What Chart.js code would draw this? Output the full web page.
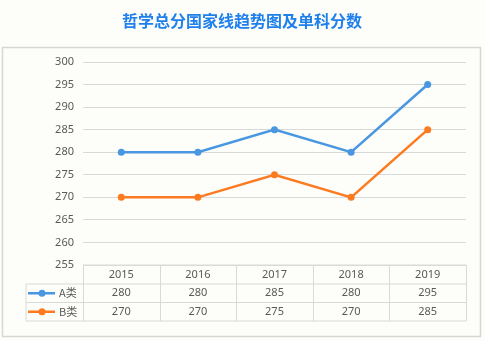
<!DOCTYPE html>
<html>
<head>
<meta charset="utf-8">
<script src="https://cdn.jsdelivr.net/npm/chart.js@4"></script>
<style>
  body { margin: 0; background: #fdfdf9; }
  canvas { display: block; }
</style>
</head>
<body>
<canvas id="trend" width="485" height="340"></canvas>
<script>
const years = ["2015", "2016", "2017", "2018", "2019"];
const seriesNames = ["A类", "B类"];
const scoreA = [280, 280, 285, 280, 295];
const scoreB = [270, 270, 275, 270, 285];
const yMin = 255;
const yMax = 300;
const yStep = 5;

const titleText = "哲学总分国家线趋势图及单科分数";
const colors = ["#4897e0", "#fc7b20"];
const gridColor = "#d9d9d9";
const textColor = "#595959";
const numFont = '11px "Noto Sans", sans-serif';
const cjkFont = '11px "Noto Sans CJK SC", sans-serif';

// frame + title behind the chart
const framePlugin = {
    id: "frame",
    beforeDraw(chart) {
        const ctx = chart.ctx;
        ctx.save();
        ctx.fillStyle = "#fdfdf9";
        ctx.fillRect(0, 0, chart.width, chart.height);
        ctx.strokeStyle = "#d6d6d6";
        ctx.lineWidth = 1.5;
        ctx.strokeRect(2.5, 47.5, 478, 289);
        ctx.fillStyle = "#1f80ec";
        ctx.font = 'bold 16px "Noto Sans CJK SC", sans-serif';
        ctx.textAlign = "center";
        ctx.textBaseline = "middle";
        ctx.fillText(titleText, 242, 21);
        ctx.restore();
    },
};

// data table under the plot, one column per category
const tablePlugin = {
    id: "dataTable",
    afterDraw(chart) {
        const ctx = chart.ctx;
        const area = chart.chartArea;
        const xs = chart.scales.x;
        const n = years.length;
        const colW = (area.right - area.left) / n;
        const legendLeft = 26;
        const rows = [area.bottom, area.bottom + 19, area.bottom + 37.5, area.bottom + 56];
        const rowData = [scoreA, scoreB];

        ctx.save();
        ctx.strokeStyle = gridColor;
        ctx.lineWidth = 1;
        ctx.beginPath();
        // horizontal rules
        ctx.moveTo(area.left, rows[0]);
        ctx.lineTo(area.right, rows[0]);
        for (let r = 1; r < rows.length; r++) {
            ctx.moveTo(legendLeft, rows[r]);
            ctx.lineTo(area.right, rows[r]);
        }
        // vertical rules
        ctx.moveTo(legendLeft, rows[1]);
        ctx.lineTo(legendLeft, rows[3]);
        for (let i = 0; i <= n; i++) {
            const x = Math.round(area.left + i * colW) + 0.5;
            ctx.moveTo(x, rows[0]);
            ctx.lineTo(x, rows[3]);
        }
        ctx.stroke();

        ctx.fillStyle = textColor;
        ctx.textAlign = "center";
        ctx.textBaseline = "middle";
        ctx.font = numFont;
        years.forEach((y, i) => {
            ctx.fillText(y, xs.getPixelForValue(i), (rows[0] + rows[1]) / 2);
        });
        rowData.forEach((vals, r) => {
            const cy = (rows[r + 1] + rows[r + 2]) / 2;
            vals.forEach((v, i) => {
                ctx.fillText(String(v), xs.getPixelForValue(i), cy);
            });
            // legend key
            ctx.strokeStyle = colors[r];
            ctx.lineWidth = 2.5;
            ctx.beginPath();
            ctx.moveTo(28, cy);
            ctx.lineTo(55, cy);
            ctx.stroke();
            ctx.fillStyle = colors[r];
            ctx.beginPath();
            ctx.arc(42, cy, 3.5, 0, Math.PI * 2);
            ctx.fill();
            ctx.fillStyle = textColor;
            ctx.textAlign = "left";
            ctx.font = cjkFont;
            ctx.fillText(seriesNames[r], 59, cy);
            ctx.textAlign = "center";
            ctx.font = numFont;
        });
        ctx.restore();
    },
};

new Chart(document.getElementById("trend"), {
    type: "line",
    data: {
        labels: years,
        datasets: [
            {
                label: seriesNames[0],
                data: scoreA,
                borderColor: colors[0],
                backgroundColor: colors[0],
                borderWidth: 2.5,
                pointRadius: 3.5,
                pointBorderWidth: 0,
                tension: 0,
            },
            {
                label: seriesNames[1],
                data: scoreB,
                borderColor: colors[1],
                backgroundColor: colors[1],
                borderWidth: 2.5,
                pointRadius: 3.5,
                pointBorderWidth: 0,
                tension: 0,
            },
        ],
    },
    options: {
        responsive: false,
        animation: false,
        layout: {
            padding: { left: 0, right: 19, top: 62, bottom: 75 },
        },
        plugins: {
            legend: { display: false },
            tooltip: { enabled: false },
            title: { display: false },
        },
        scales: {
            x: {
                display: false,
                offset: true,
            },
            y: {
                min: yMin,
                max: yMax,
                afterFit(scale) {
                    scale.width = 83;
                },
                ticks: {
                    stepSize: yStep,
                    padding: 9,
                    color: textColor,
                    font: { family: '"Noto Sans", sans-serif', size: 11 },
                },
                grid: {
                    color: gridColor,
                    drawTicks: false,
                },
                border: { display: false },
            },
        },
    },
    plugins: [framePlugin, tablePlugin],
});
</script>
</body>
</html>
